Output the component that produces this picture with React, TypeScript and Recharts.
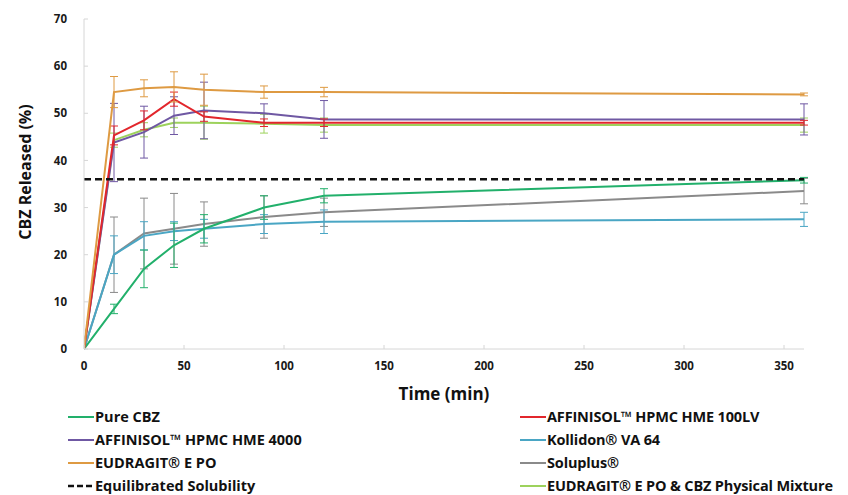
import { ErrorBar, Line, LineChart, ReferenceLine, XAxis, YAxis } from 'recharts';

// -----------------------------------------------------------------------------
// Data
// -----------------------------------------------------------------------------

const TIME = [0, 15, 30, 45, 60, 90, 120, 360];
const X_TICKS = [0, 50, 100, 150, 200, 250, 300, 350];
const Y_TICKS = [0, 10, 20, 30, 40, 50, 60, 70];
const SOLUBILITY = 36;

const PURE_CBZ = [0, 8.5, 17, 22, 25.5, 30, 32.5, 35.8];
const PURE_CBZ_SD = [0, 1, 4, 4.7, 3, 2.5, 1.5, 0.6];
const HME_100LV = [0, 45.3, 48.5, 53, 49.3, 48, 48, 48];
const HME_100LV_SD = [0, 2, 2, 1.5, 1, 0.8, 0.8, 0.5];
const HME_4000 = [0, 43.8, 46, 49.5, 50.6, 50, 48.7, 48.7];
const HME_4000_SD = [0, 8.3, 5.5, 4, 6, 2, 4, 3.3];
const KOLLIDON = [0, 20, 24, 25, 25.5, 26.5, 27, 27.5];
const KOLLIDON_SD = [0, 4, 3, 2, 2, 2, 2.5, 1.5];
const EUDRAGIT = [0, 54.5, 55.3, 55.6, 55, 54.5, 54.5, 54];
const EUDRAGIT_SD = [0, 3.3, 1.8, 3.2, 3.3, 1.3, 1, 0.3];
const SOLUPLUS = [0, 20, 24.5, 25.5, 26.5, 28, 29, 33.5];
const SOLUPLUS_SD = [0, 8, 7.5, 7.5, 4.7, 4.5, 3, 2.7];
const PHYS_MIX = [0, 44.3, 46.5, 48, 48, 47.8, 47.5, 47.5];
const PHYS_MIX_SD = [0, 1.5, 1.5, 1, 3.5, 2, 1.5, 1.5];

type Series = { key: string; name: string; color: string; values: number[]; sd: number[] };

// drawing order (last on top)
const SERIES: Series[] = [
  { key: 'soluplus', name: 'Soluplus®', color: '#8a8a8a', values: SOLUPLUS, sd: SOLUPLUS_SD },
  { key: 'kollidon', name: 'Kollidon® VA 64', color: '#4aa6c4', values: KOLLIDON, sd: KOLLIDON_SD },
  { key: 'pure', name: 'Pure CBZ', color: '#22b06b', values: PURE_CBZ, sd: PURE_CBZ_SD },
  { key: 'mix', name: 'EUDRAGIT® E PO & CBZ Physical Mixture', color: '#9dd25c', values: PHYS_MIX, sd: PHYS_MIX_SD },
  { key: 'h4000', name: 'AFFINISOL™ HPMC HME 4000', color: '#6f58a3', values: HME_4000, sd: HME_4000_SD },
  { key: 'h100', name: 'AFFINISOL™ HPMC HME 100LV', color: '#e2262c', values: HME_100LV, sd: HME_100LV_SD },
  { key: 'eudragit', name: 'EUDRAGIT® E PO', color: '#de9a42', values: EUDRAGIT, sd: EUDRAGIT_SD },
];

const LEGEND_LEFT = ['pure', 'h4000', 'eudragit', 'solubility'];
const LEGEND_RIGHT = ['h100', 'kollidon', 'soluplus', 'mix'];

const data = TIME.map((t, i) => {
  const row: Record<string, number> = { t };
  SERIES.forEach((s) => {
    row[s.key] = s.values[i];
    row[s.key + 'Sd'] = s.sd[i];
  });
  return row;
});

// -----------------------------------------------------------------------------
// Pieces
// -----------------------------------------------------------------------------

const FONT = '"Open Sans", "Noto Sans", sans-serif';
const AXIS_GREY = '#d6d6d6';

const tickStyle = { fontSize: 11.5, fontWeight: 700, fill: '#1a1a1a', fontFamily: FONT };

const YLabel = (props: any) => {
  const vb = props.viewBox || {};
  const cy = vb.y + vb.height / 2;
  return (
    <text
      x={25}
      y={cy - 12}
      transform={`rotate(-90 25 ${cy - 12})`}
      textAnchor="middle"
      dominantBaseline="central"
      style={{ fontSize: 16, fontWeight: 700, fill: '#111', fontFamily: FONT }}
    >
      CBZ Released (%)
    </text>
  );
};

const XLabel = (props: any) => {
  const vb = props.viewBox || {};
  return (
    <text
      x={vb.x + vb.width / 2}
      y={393}
      textAnchor="middle"
      dominantBaseline="central"
      style={{ fontSize: 17, fontWeight: 700, fill: '#111', fontFamily: FONT }}
    >
      Time (min)
    </text>
  );
};

const LegendItem: React.FC<{ id: string }> = ({ id }) => {
  const s = SERIES.find((x) => x.key === id);
  const name = s ? s.name : 'Equilibrated Solubility';
  return (
    <div style={{ display: 'flex', alignItems: 'center', height: 23 }}>
      <svg width={26} height={10} style={{ flex: 'none' }}>
        {s ? (
          <line x1={0} x2={26} y1={5} y2={5} stroke={s.color} strokeWidth={2} />
        ) : (
          <line x1={0} x2={26} y1={5} y2={5} stroke="#111" strokeWidth={2.5} strokeDasharray="6 3" />
        )}
      </svg>
      <span style={{ marginLeft: 1, whiteSpace: 'nowrap' }}>{name}</span>
    </div>
  );
};

// -----------------------------------------------------------------------------
// Component
// -----------------------------------------------------------------------------

const App: React.FC = () => {
  return (
    <div style={{ position: 'absolute', left: 0, top: 0, width: 848, height: 495, background: '#fff' }}>
      <LineChart width={848} height={405} data={data} margin={{ top: 19, right: 44, bottom: 6, left: 24 }}>
        <XAxis
          dataKey="t"
          type="number"
          domain={[0, 360]}
          ticks={X_TICKS}
          allowDataOverflow
          stroke={AXIS_GREY}
          tick={tickStyle}
          tickSize={-4}
          tickMargin={17}
          height={50}
          label={<XLabel />}
        />
        <YAxis
          type="number"
          domain={[0, 70]}
          ticks={Y_TICKS}
          stroke={AXIS_GREY}
          tick={tickStyle}
          tickSize={-4}
          tickMargin={21}
          width={60}
          label={<YLabel />}
        />
        {SERIES.map((s) => (
          <Line
            key={s.key}
            type="linear"
            dataKey={s.key}
            name={s.name}
            stroke={s.color}
            strokeWidth={2}
            dot={false}
            isAnimationActive={false}
          >
            <ErrorBar dataKey={s.key + 'Sd'} direction="y" width={4} stroke={s.color} strokeWidth={1} />
          </Line>
        ))}
        <ReferenceLine y={SOLUBILITY} stroke="#111" strokeWidth={2.5} strokeDasharray="7 4" />
      </LineChart>
      <div
        style={{
          position: 'absolute',
          top: 405,
          left: 68,
          width: 780,
          fontFamily: FONT,
          fontSize: 14.5,
          fontWeight: 700,
          color: '#111',
        }}
      >
        <div style={{ position: 'absolute', left: 0, top: 0 }}>
          {LEGEND_LEFT.map((k) => (
            <LegendItem key={k} id={k} />
          ))}
        </div>
        <div style={{ position: 'absolute', left: 452, top: 0, letterSpacing: -0.15 }}>
          {LEGEND_RIGHT.map((k) => (
            <LegendItem key={k} id={k} />
          ))}
        </div>
      </div>
    </div>
  );
};

export default App;
